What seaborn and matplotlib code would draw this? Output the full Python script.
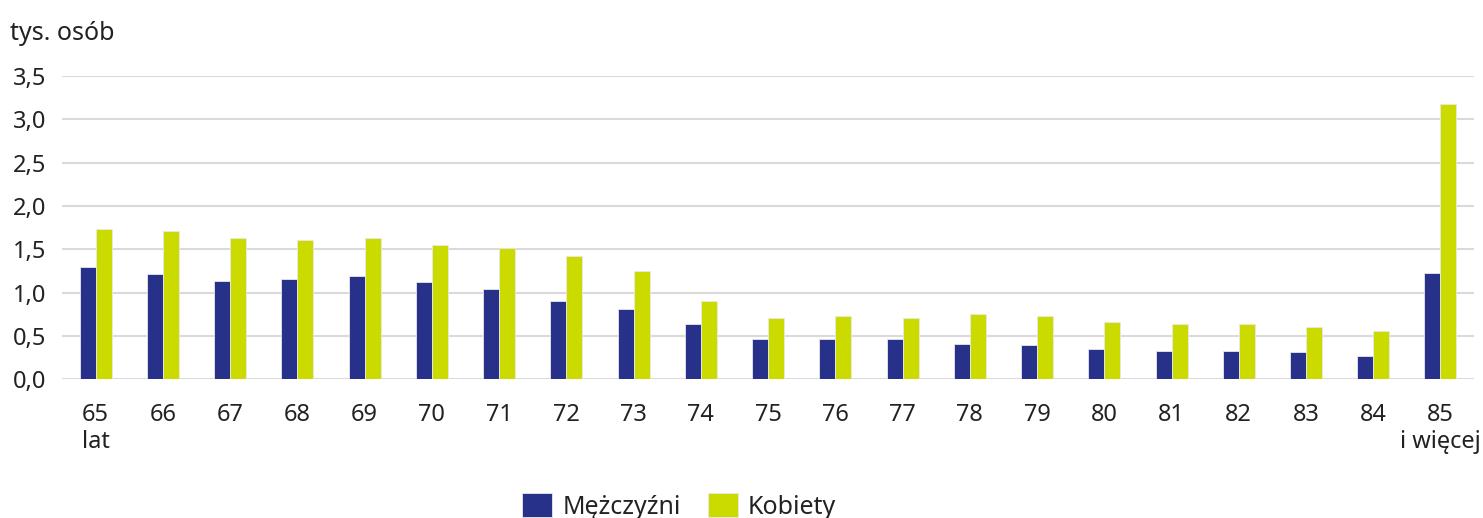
import pandas as pd
import matplotlib
matplotlib.use("Agg")
import matplotlib.pyplot as plt
import seaborn as sns

# Dane: liczba osób (tys.) wg wieku i płci
wiek = ["65\nlat", "66", "67", "68", "69", "70", "71", "72", "73", "74", "75",
        "76", "77", "78", "79", "80", "81", "82", "83", "84", "85\ni więcej"]
mezczyzni = [1.29, 1.21, 1.13, 1.155, 1.19, 1.12, 1.04, 0.90, 0.81, 0.64, 0.465,
             0.465, 0.465, 0.41, 0.39, 0.35, 0.33, 0.33, 0.31, 0.27, 1.23]
kobiety = [1.74, 1.71, 1.63, 1.61, 1.63, 1.555, 1.51, 1.42, 1.25, 0.90, 0.71,
           0.73, 0.71, 0.75, 0.73, 0.655, 0.635, 0.635, 0.60, 0.56, 3.18]
plec = ["Mężczyźni", "Kobiety"]
kolory = ["#27318A", "#CBDB00"]

df = pd.DataFrame({
    "wiek": wiek * 2,
    "wartosc": mezczyzni + kobiety,
    "plec": [plec[0]] * len(wiek) + [plec[1]] * len(wiek),
})

sns.set_style("white")
plt.rcParams["font.family"] = ["Noto Sans", "DejaVu Sans"]
plt.rcParams["text.color"] = "#222222"

fig = plt.figure(figsize=(14.83, 5.18), dpi=100)
ax = fig.add_axes([0.0418, 0.268, 0.9522, 0.585])

sns.barplot(data=df, x="wiek", y="wartosc", hue="plec", palette=kolory,
            saturation=1, width=0.476, edgecolor="#E8E8E8", linewidth=0.6, ax=ax)

ax.set_ylim(0, 3.5)
ax.set_xlim(-0.5, len(wiek) - 0.5)
ax.set_yticks([0, 0.5, 1.0, 1.5, 2.0, 2.5, 3.0, 3.5])
ax.set_yticklabels([f"{v:.1f}".replace(".", ",") for v in ax.get_yticks()])
ax.yaxis.grid(True, color="#DADADA", linewidth=1.5)
ax.set_axisbelow(True)
for s in ax.spines.values():
    s.set_visible(False)
ax.tick_params(axis="both", length=0, labelsize=17, colors="#222222")
ax.tick_params(axis="x", pad=17)
ax.tick_params(axis="y", pad=11)
ax.set_xlabel("")
ax.set_ylabel("")

fig.text(0.007, 0.935, "tys. osób", fontsize=18, va="center", ha="left")

ax.legend(loc="center", bbox_to_anchor=(0.458, 0.022), bbox_transform=fig.transFigure,
          ncol=2, frameon=False, fontsize=18, handlelength=1.2, handleheight=1.1,
          handletextpad=0.4, columnspacing=1.1)

fig.savefig("out.png", dpi=100)
